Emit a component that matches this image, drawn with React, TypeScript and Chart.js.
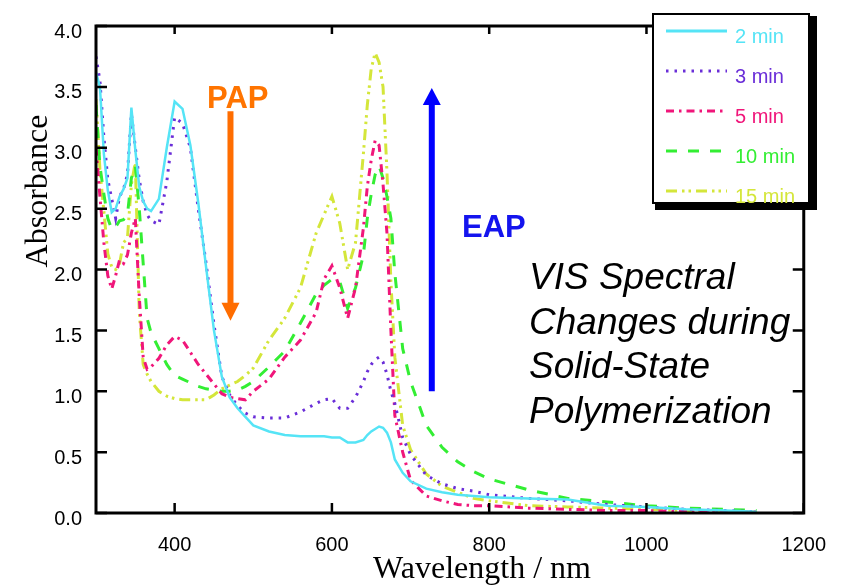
import React, { useEffect, useRef } from "react";
import { Chart, registerables } from "chart.js";

Chart.register(...registerables);

// ---------- data ----------
const wavelengths = [
  300, 305, 310, 315, 320, 325, 330, 335, 340, 345,
  350, 355, 360, 365, 370, 380, 390, 400, 410, 420,
  430, 440, 450, 460, 470, 480, 490, 500, 520, 540,
  560, 580, 590, 600, 610, 620, 630, 640, 645, 650,
  655, 660, 665, 670, 675, 680, 690, 700, 720, 740,
  760, 780, 800, 850, 900, 950, 1000, 1050, 1100, 1140,
];

const abs2min = [
  3.62, 3.5, 2.95, 2.65, 2.47, 2.5, 2.6, 2.66, 2.75, 3.33,
  2.98, 2.68, 2.56, 2.5, 2.48, 2.58, 3.0, 3.38, 3.32, 3.02,
  2.55, 2.02, 1.5, 1.12, 0.95, 0.86, 0.79, 0.72, 0.67, 0.64,
  0.63, 0.63, 0.63, 0.62, 0.62, 0.58, 0.58, 0.6, 0.64, 0.67,
  0.69, 0.71, 0.7, 0.66, 0.58, 0.44, 0.33, 0.26, 0.2, 0.17,
  0.15, 0.14, 0.13, 0.12, 0.11, 0.06, 0.05, 0.03, 0.02, 0.01,
];

const abs3min = [
  3.75, 3.55, 3.09, 2.74, 2.58, 2.42, 2.6, 2.66, 2.78, 3.28,
  3.0, 2.74, 2.56, 2.45, 2.4, 2.37, 2.72, 3.25, 3.2, 3.0,
  2.5, 2.05, 1.55, 1.12, 0.97, 0.88, 0.82, 0.79, 0.78, 0.78,
  0.83, 0.9, 0.93, 0.94, 0.86, 0.86, 0.95, 1.08, 1.16, 1.22,
  1.26, 1.28, 1.24, 1.14, 1.0, 0.9, 0.62, 0.48, 0.31, 0.24,
  0.2, 0.18, 0.15, 0.12, 0.1, 0.07, 0.05, 0.03, 0.02, 0.01,
];

const abs5min = [
  3.0, 2.6, 2.22, 1.95, 1.84, 1.95, 2.08, 2.05, 2.12, 2.3,
  2.42, 1.78, 1.28, 1.18, 1.2, 1.27, 1.38, 1.45, 1.42, 1.32,
  1.22, 1.14, 1.06, 0.98, 0.95, 0.94, 0.93, 1.0, 1.1, 1.28,
  1.42, 1.65, 1.92, 2.03, 1.85, 1.6, 1.85, 2.34, 2.68, 2.9,
  3.06, 3.02, 2.7, 2.3, 1.5, 0.8, 0.5, 0.27, 0.14, 0.1,
  0.07, 0.06, 0.06, 0.04, 0.03, 0.02, 0.02, 0.01, 0.01, 0.01,
];

const abs10min = [
  3.35, 2.85, 2.62, 2.42, 2.33, 2.35, 2.4, 2.41, 2.45, 2.75,
  2.85, 2.5, 2.05, 1.6, 1.48, 1.35, 1.22, 1.13, 1.1, 1.07,
  1.04, 1.02, 1.01, 1.0, 1.0, 1.01, 1.04, 1.08, 1.2, 1.33,
  1.56, 1.8, 1.87, 1.92, 1.9, 1.68, 1.85, 2.12, 2.42, 2.62,
  2.78, 2.85, 2.75, 2.6, 2.42, 1.97, 1.35, 1.08, 0.72, 0.54,
  0.42, 0.34, 0.28, 0.19, 0.12, 0.09, 0.06, 0.04, 0.03, 0.02,
];

const abs15min = [
  3.4, 2.82, 2.48, 2.13, 2.02, 2.0, 2.05, 2.22, 2.26, 2.7,
  2.88, 1.65, 1.22, 1.14, 1.08, 1.0, 0.96, 0.94, 0.93, 0.93,
  0.93, 0.93, 0.97, 1.02, 1.05, 1.08, 1.13, 1.19, 1.42, 1.6,
  1.85, 2.3, 2.45, 2.6, 2.38, 2.0, 2.22, 2.95, 3.35, 3.65,
  3.78, 3.7, 3.5, 2.8, 1.9, 1.28, 0.72, 0.52, 0.32, 0.22,
  0.17, 0.12, 0.1, 0.06, 0.05, 0.04, 0.03, 0.02, 0.01, 0.01,
];

const seriesLabels = ["2 min", "3 min", "5 min", "10 min", "15 min"];
const seriesColors = ["#55e4f6", "#6a2ed8", "#f0167a", "#33ee33", "#d4e63a"];
const xTickValues = [400, 600, 800, 1000, 1200];
const yTickValues = [0, 0.5, 1, 1.5, 2, 2.5, 3, 3.5, 4];
const noteLines = ["VIS Spectral", "Changes during", "Solid-State", "Polymerization"];

const SANS = '"Liberation Sans", Arial, sans-serif';
const SERIF = '"Liberation Serif", "Times New Roman", serif';

export default function App() {
  const ref = useRef<HTMLCanvasElement>(null);

  useEffect(() => {
    const canvas = ref.current;
    if (!canvas) return;
    const series = [abs2min, abs3min, abs5min, abs10min, abs15min];
    const dashes: number[][] = [[], [2.5, 6], [8, 5, 2.5, 5], [11, 11], [11, 5, 2.5, 4, 2.5, 5]];

    const datasets = series.map((vals, i) => ({
      label: seriesLabels[i],
      data: wavelengths.map((w, j) => ({ x: w, y: vals[j] })),
      borderColor: seriesColors[i],
      backgroundColor: seriesColors[i],
      borderWidth: i === 0 ? 2.5 : 3,
      borderDash: dashes[i],
      pointRadius: 0,
      tension: 0,
      fill: false,
    }));

    const decor = {
      id: "decor",
      afterDraw(chart: any) {
        const ctx = chart.ctx as CanvasRenderingContext2D;
        const { left, right, top, bottom } = chart.chartArea;
        const xs = chart.scales.x;
        const ys = chart.scales.y;
        ctx.save();

        // frame
        ctx.setLineDash([]);
        ctx.strokeStyle = "#000";
        ctx.lineWidth = 3;
        ctx.strokeRect(left, top, right - left, bottom - top);

        // inward ticks
        ctx.lineWidth = 2.5;
        ctx.beginPath();
        yTickValues.forEach((v) => {
          const y = ys.getPixelForValue(v);
          ctx.moveTo(left, y);
          ctx.lineTo(left + 11, y);
          ctx.moveTo(right, y);
          ctx.lineTo(right - 11, y);
        });
        xTickValues.forEach((v) => {
          const x = xs.getPixelForValue(v);
          ctx.moveTo(x, bottom);
          ctx.lineTo(x, bottom - 10);
          ctx.moveTo(x, top);
          ctx.lineTo(x, top + 8);
        });
        ctx.stroke();

        // axis titles
        ctx.fillStyle = "#000";
        ctx.font = `32px ${SERIF}`;
        ctx.textAlign = "center";
        ctx.textBaseline = "alphabetic";
        ctx.fillText("Wavelength / nm", 482, 578);
        ctx.save();
        ctx.translate(47, 191);
        ctx.rotate(-Math.PI / 2);
        ctx.fillText("Absorbance", 0, 0);
        ctx.restore();

        // PAP arrow
        const ox = xs.getPixelForValue(471);
        const oTop = ys.getPixelForValue(3.3);
        const oTip = ys.getPixelForValue(1.58);
        ctx.strokeStyle = "#ff6d00";
        ctx.fillStyle = "#ff6d00";
        ctx.lineWidth = 6;
        ctx.beginPath();
        ctx.moveTo(ox, oTop);
        ctx.lineTo(ox, oTip - 16);
        ctx.stroke();
        ctx.beginPath();
        ctx.moveTo(ox - 9, oTip - 18);
        ctx.lineTo(ox + 9, oTip - 18);
        ctx.lineTo(ox, oTip);
        ctx.closePath();
        ctx.fill();
        ctx.font = `bold 31px ${SANS}`;
        ctx.textAlign = "left";
        ctx.fillStyle = "#ff7400";
        ctx.fillText("PAP", 207, 108);

        // EAP arrow
        const bx = xs.getPixelForValue(727);
        const bBot = ys.getPixelForValue(1.0);
        const bTip = ys.getPixelForValue(3.49);
        ctx.strokeStyle = "#0000ff";
        ctx.fillStyle = "#0000ff";
        ctx.lineWidth = 6;
        ctx.beginPath();
        ctx.moveTo(bx, bBot);
        ctx.lineTo(bx, bTip + 14);
        ctx.stroke();
        ctx.beginPath();
        ctx.moveTo(bx - 9, bTip + 17);
        ctx.lineTo(bx + 9, bTip + 17);
        ctx.lineTo(bx, bTip);
        ctx.closePath();
        ctx.fill();
        ctx.fillStyle = "#1414ee";
        ctx.fillText("EAP", 462, 237);

        // note text
        ctx.fillStyle = "#000";
        ctx.font = `italic 37px ${SANS}`;
        noteLines.forEach((t, i) => ctx.fillText(t, 529, 289 + i * 44.7));

        // legend box
        ctx.fillStyle = "#fff";
        ctx.fillRect(652, 13, 158, 190);
        ctx.strokeStyle = "#000";
        ctx.lineWidth = 2;
        ctx.strokeRect(653, 14, 156, 189);
        ctx.font = `20px ${SANS}`;
        seriesLabels.forEach((lab, i) => {
          const y = 31 + i * 40;
          ctx.strokeStyle = seriesColors[i];
          ctx.lineWidth = 3;
          ctx.setLineDash(dashes[i]);
          ctx.beginPath();
          ctx.moveTo(666, y);
          ctx.lineTo(727, y);
          ctx.stroke();
          ctx.setLineDash([]);
          ctx.fillStyle = seriesColors[i];
          ctx.fillText(lab, 735, y + 12);
        });
        ctx.fillStyle = "#000";
        ctx.fillRect(809, 16, 8, 194);
        ctx.fillRect(655, 203, 162, 7);

        ctx.restore();
      },
    };

    const chart = new Chart(canvas, {
      type: "line",
      data: { datasets: datasets as any },
      options: {
        responsive: false,
        animation: false,
        layout: { padding: { top: 13, right: 30, left: 0, bottom: 0 } },
        plugins: { legend: { display: false }, tooltip: { enabled: false } },
        scales: {
          x: {
            type: "linear",
            min: 300,
            max: 1200,
            grid: { display: false, drawTicks: false },
            border: { display: false },
            afterBuildTicks: (s: any) => {
              s.ticks = xTickValues.map((v) => ({ value: v }));
            },
            afterFit: (s: any) => {
              s.height = 74;
            },
            ticks: {
              color: "#000",
              font: { family: SANS, size: 20 },
              padding: 20,
              maxRotation: 0,
              autoSkip: false,
              callback: (v: any) => String(v),
            },
          },
          y: {
            type: "linear",
            min: 0,
            max: 4,
            grid: { display: false, drawTicks: false },
            border: { display: false },
            afterBuildTicks: (s: any) => {
              s.ticks = yTickValues.map((v) => ({ value: v }));
            },
            afterFit: (s: any) => {
              s.width = 96;
            },
            ticks: {
              color: "#000",
              font: { family: SANS, size: 20 },
              padding: 14,
              labelOffset: 6,
              autoSkip: false,
              callback: (v: any) => Number(v).toFixed(1),
            },
          },
        },
      } as any,
      plugins: [decor],
    });
    return () => chart.destroy();
  }, []);

  return (
    <div style={{ position: "fixed", left: 0, top: 0, width: 846, height: 587, background: "#fff" }}>
      <canvas ref={ref} width={846} height={587} style={{ display: "block" }} />
    </div>
  );
}
